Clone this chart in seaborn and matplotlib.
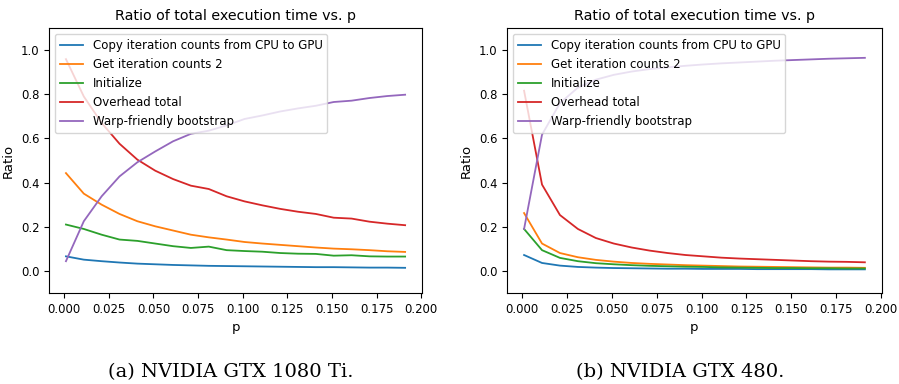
import numpy as np
import pandas as pd
import matplotlib
matplotlib.use("Agg")
import matplotlib.pyplot as plt
import seaborn as sns

# p values (20 points)
p = [0.001, 0.011, 0.021, 0.031, 0.041, 0.051, 0.061, 0.071, 0.081, 0.091,
     0.101, 0.111, 0.121, 0.131, 0.141, 0.151, 0.161, 0.171, 0.181, 0.191]

series_names = ["Copy iteration counts from CPU to GPU", "Get iteration counts 2",
                "Initialize", "Overhead total", "Warp-friendly bootstrap"]

# (a) NVIDIA GTX 1080 Ti
copy_a = [0.066, 0.051, 0.044, 0.038, 0.033, 0.030, 0.027, 0.025, 0.023, 0.022,
          0.021, 0.020, 0.019, 0.018, 0.017, 0.017, 0.016, 0.015, 0.015, 0.014]
get2_a = [0.443, 0.350, 0.300, 0.258, 0.225, 0.202, 0.183, 0.164, 0.152, 0.142,
          0.131, 0.124, 0.118, 0.112, 0.106, 0.101, 0.098, 0.094, 0.089, 0.086]
init_a = [0.210, 0.190, 0.164, 0.142, 0.136, 0.124, 0.112, 0.104, 0.110, 0.094,
          0.090, 0.087, 0.081, 0.078, 0.077, 0.069, 0.071, 0.066, 0.065, 0.065]
over_a = [0.959, 0.790, 0.670, 0.576, 0.504, 0.454, 0.416, 0.386, 0.371, 0.338,
          0.315, 0.297, 0.281, 0.268, 0.258, 0.241, 0.237, 0.223, 0.214, 0.207]
warp_a = [0.044, 0.225, 0.338, 0.428, 0.492, 0.541, 0.587, 0.621, 0.635, 0.659,
          0.688, 0.704, 0.722, 0.736, 0.748, 0.765, 0.771, 0.783, 0.792, 0.798]

# (b) NVIDIA GTX 480
copy_b = [0.072, 0.036, 0.024, 0.018, 0.015, 0.013, 0.012, 0.011, 0.010, 0.010,
          0.009, 0.009, 0.009, 0.008, 0.008, 0.008, 0.008, 0.007, 0.007, 0.007]
get2_b = [0.262, 0.124, 0.081, 0.062, 0.050, 0.042, 0.036, 0.032, 0.029, 0.026,
          0.024, 0.022, 0.020, 0.019, 0.018, 0.017, 0.016, 0.015, 0.015, 0.014]
init_b = [0.190, 0.094, 0.059, 0.044, 0.035, 0.030, 0.026, 0.023, 0.021, 0.019,
          0.018, 0.016, 0.015, 0.014, 0.013, 0.013, 0.012, 0.012, 0.011, 0.011]
over_b = [0.816, 0.391, 0.253, 0.190, 0.149, 0.124, 0.106, 0.092, 0.081, 0.072,
          0.066, 0.060, 0.056, 0.053, 0.050, 0.047, 0.044, 0.042, 0.041, 0.039]
warp_b = [0.190, 0.617, 0.760, 0.830, 0.866, 0.888, 0.903, 0.914, 0.922, 0.929,
          0.935, 0.940, 0.944, 0.948, 0.952, 0.955, 0.958, 0.961, 0.963, 0.965]

captions = ["(a) NVIDIA GTX 1080 Ti.", "(b) NVIDIA GTX 480."]


def to_long(cols):
    frames = []
    for name, vals in zip(series_names, cols):
        frames.append(pd.DataFrame({"p": p, "Ratio": vals, "series": name}))
    return pd.concat(frames, ignore_index=True)


df_a = to_long([copy_a, get2_a, init_a, over_a, warp_a])
df_b = to_long([copy_b, get2_b, init_b, over_b, warp_b])

fig = plt.figure(figsize=(8.99, 3.84), dpi=100)
ax_a = fig.add_axes([0.0545, 0.237, 0.415, 0.690])
ax_b = fig.add_axes([0.564, 0.237, 0.417, 0.690])

palette = sns.color_palette("tab10", 5)
cap_x = [0.257, 0.757]

for ax, df, cap, cx in [(ax_a, df_a, captions[0], cap_x[0]),
                        (ax_b, df_b, captions[1], cap_x[1])]:
    sns.lineplot(data=df, x="p", y="Ratio", hue="series", hue_order=series_names,
                 palette=palette, ax=ax, linewidth=1.3)
    ax.set_ylim(-0.1, 1.1)
    ax.set_xticks(np.arange(0, 0.201, 0.025))
    ax.set_yticks(np.arange(0, 1.01, 0.2))
    ax.tick_params(labelsize=8.4, length=3.5)
    ax.set_title("Ratio of total execution time vs. p", fontsize=10.3)
    ax.set_xlabel("p", fontsize=9.5)
    ax.set_ylabel("Ratio", fontsize=9.5)
    ax.legend(loc="upper left", fontsize=8.5, handlelength=2.0,
              labelspacing=0.52)
    fig.text(cx, 0.018, cap, ha="center", va="baseline",
             fontsize=14, family="DejaVu Serif")

fig.savefig("out.png", dpi=100)
